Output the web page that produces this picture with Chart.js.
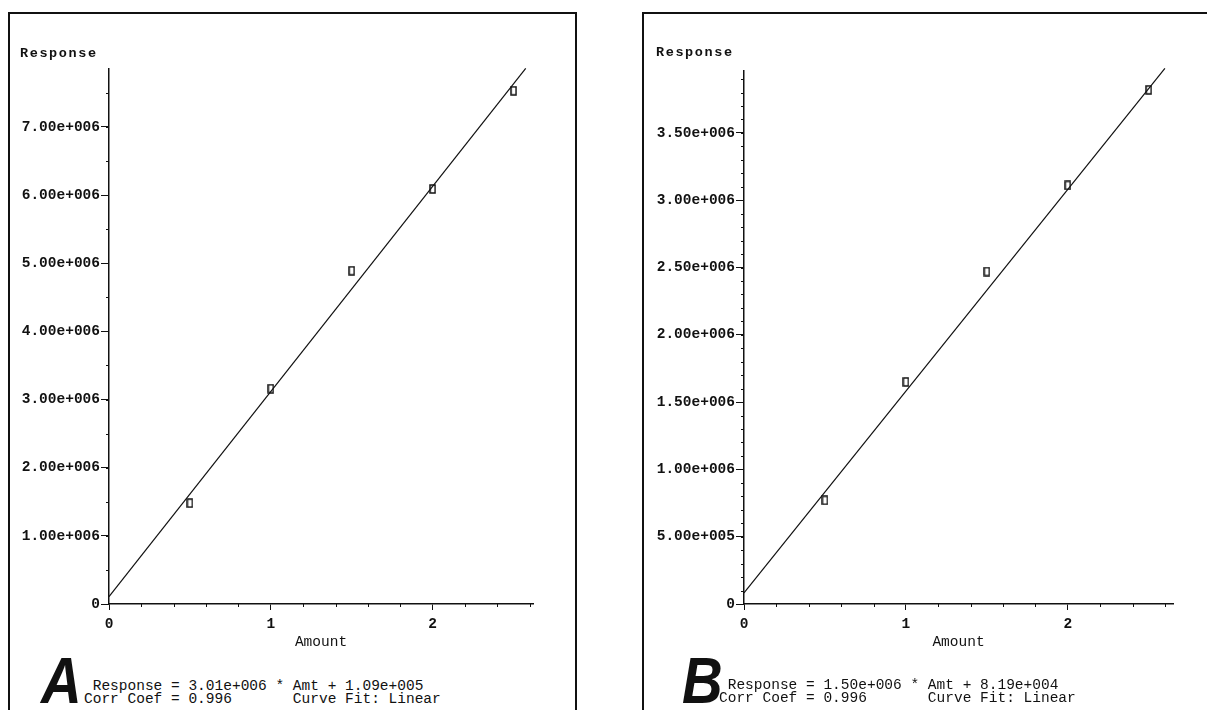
<!DOCTYPE html>
<html>
<head>
<meta charset="utf-8">
<script src="https://cdn.jsdelivr.net/npm/chart.js@4.4.1/dist/chart.umd.min.js"></script>
<style>
  body { margin: 0; background: #fff; width: 1207px; height: 710px; overflow: hidden; position: relative; font-family: "Liberation Mono", monospace; color: #111; }
  .panel { position: absolute; top: 12px; height: 720px; border-top: 2px solid #111; border-left: 2px solid #111; }
  #panelA { left: 8px; width: 565px; border-right: 2px solid #111; }
  #panelB { left: 642px; width: 580px; }
  canvas { position: absolute; top: 0; }
  .ylab { position: absolute; font-weight: bold; font-size: 13.5px; letter-spacing: 1.6px; }
  .big { position: absolute; font-family: "Liberation Sans", sans-serif; font-weight: bold; font-style: italic; font-size: 64px; line-height: 64px; transform: scaleX(0.88); transform-origin: left; }
  .eq { position: absolute; margin: 0; font-family: "Liberation Mono", monospace; font-size: 14.5px; line-height: 13px; }
</style>
</head>
<body>
<div id="panelA" class="panel">
  <canvas id="chartA" width="565" height="640"></canvas>
  <div class="ylab" style="left:10px; top:32px;">Response</div>
  <div class="big" style="left:31px; top:635px;">A</div>
  <pre class="eq" style="left:74px; top:666px;"> Response = 3.01e+006 * Amt + 1.09e+005
Corr Coef = 0.996       Curve Fit: Linear</pre>
</div>
<div id="panelB" class="panel">
  <canvas id="chartB" width="563" height="640"></canvas>
  <div class="ylab" style="left:12px; top:31px;">Response</div>
  <div class="big" style="left:38px; top:635px;">B</div>
  <pre class="eq" style="left:75px; top:665px;"> Response = 1.50e+006 * Amt + 8.19e+004
Corr Coef = 0.996       Curve Fit: Linear</pre>
</div>
<script>
// calibration data
const amounts = [0.5, 1, 1.5, 2, 2.5];
const xTicks = [0, 1, 2];
const xTickLabels = ['0', '1', '2'];

// panel A
const responseA = [1.48e6, 3.16e6, 4.89e6, 6.09e6, 7.53e6];
const fitAmtA = [0, 2.575];
const fitRespA = [1.09e5, 7.86e6];
const yTicksA = [0, 1e6, 2e6, 3e6, 4e6, 5e6, 6e6, 7e6];
const yTickLabelsA = ['0', '1.00e+006', '2.00e+006', '3.00e+006', '4.00e+006', '5.00e+006', '6.00e+006', '7.00e+006'];

// panel B
const responseB = [0.77e6, 1.65e6, 2.47e6, 3.11e6, 3.82e6];
const fitAmtB = [0, 2.6];
const fitRespB = [8.19e4, 3.98e6];
const yTicksB = [0, 5e5, 1e6, 1.5e6, 2e6, 2.5e6, 3e6, 3.5e6];
const yTickLabelsB = ['0', '5.00e+005', '1.00e+006', '1.50e+006', '2.00e+006', '2.50e+006', '3.00e+006', '3.50e+006'];

// little hollow rectangle marker
function boxMarker() {
  const c = document.createElement('canvas');
  c.width = 7; c.height = 10;
  const g = c.getContext('2d');
  g.strokeStyle = '#111';
  g.lineWidth = 1.5;
  g.strokeRect(1, 1, 5, 8);
  return c;
}

const minorTicks = {
  id: 'minorTicks',
  afterDraw(chart, args, opts) {
    const ctx = chart.ctx, x = chart.scales.x, y = chart.scales.y;
    ctx.save();
    ctx.strokeStyle = '#111';
    ctx.lineWidth = 1;
    ctx.beginPath();
    for (let i = 1; i * opts.yStep <= y.max; i++) {
      const py = Math.round(y.getPixelForValue(i * opts.yStep)) + 0.5;
      ctx.moveTo(x.left - 3, py); ctx.lineTo(x.left, py);
    }
    for (let i = 1; i * 0.2 <= x.max; i++) {
      if (i % 5 === 0) continue;
      const px = Math.round(x.getPixelForValue(i * 0.2)) + 0.5;
      ctx.moveTo(px, y.bottom); ctx.lineTo(px, y.bottom + 3);
    }
    ctx.stroke();
    ctx.restore();
  }
};

function makeChart(id, resp, fitX, fitY, yTicks, yLabels, yMax, xMax, yStep, top, yWidth, padRight) {
  const fitPts = fitX.map((v, i) => ({ x: v, y: fitY[i] }));
  const pts = amounts.map((v, i) => ({ x: v, y: resp[i] }));
  const tickFont = { family: 'Liberation Mono', size: 14.5, weight: 'bold' };
  return new Chart(document.getElementById(id), {
    type: 'scatter',
    data: {
      datasets: [
        { data: fitPts, showLine: true, borderColor: '#111', borderWidth: 1.2, pointRadius: 0, clip: false },
        { data: pts, pointStyle: boxMarker(), pointRadius: 5, clip: false }
      ]
    },
    options: {
      responsive: false,
      animation: false,
      devicePixelRatio: 1,
      layout: { padding: { top: top, right: padRight, left: 0, bottom: 0 } },
      plugins: { legend: { display: false }, tooltip: { enabled: false }, minorTicks: { yStep: yStep } },
      scales: {
        x: {
          type: 'linear', min: 0, max: xMax,
          afterBuildTicks: s => { s.ticks = xTicks.map(v => ({ value: v })); },
          afterFit: s => { s.height = 50; },
          grid: { drawOnChartArea: false, tickLength: 6, tickColor: '#111' },
          border: { color: '#111', width: 1.5 },
          ticks: { color: '#111', font: tickFont, padding: 6, maxRotation: 0,
                   callback: (v) => xTickLabels[xTicks.indexOf(v)] },
          title: { display: true, text: 'Amount', color: '#111', padding: { top: 0, bottom: 3 },
                   font: { family: 'Liberation Mono', size: 14.5 } }
        },
        y: {
          type: 'linear', min: 0, max: yMax,
          afterBuildTicks: s => { s.ticks = yTicks.map(v => ({ value: v })); },
          afterFit: s => { s.width = yWidth; },
          grid: { drawOnChartArea: false, tickLength: 8, tickColor: '#111' },
          border: { color: '#111', width: 1.5 },
          ticks: { color: '#111', font: tickFont, padding: 1,
                   callback: (v) => yLabels[yTicks.indexOf(v)] }
        }
      }
    },
    plugins: [minorTicks]
  });
}

makeChart('chartA', responseA, fitAmtA, fitRespA, yTicksA, yTickLabelsA, 7.85e6, 2.62, 5e5, 55, 99, 42);
makeChart('chartB', responseB, fitAmtB, fitRespB, yTicksB, yTickLabelsB, 3.96e6, 2.65, 1e5, 57, 100, 34);
</script>
</body>
</html>
